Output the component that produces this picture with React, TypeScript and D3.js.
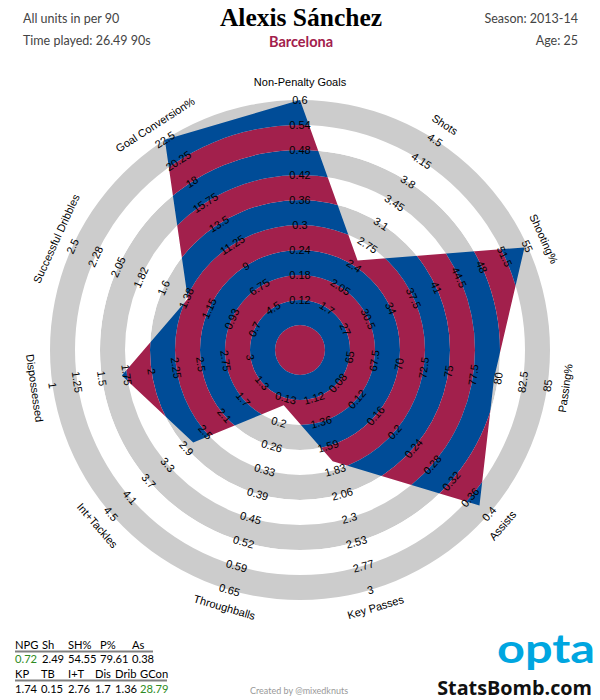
import React from "react";
import * as d3 from "d3";

// Radar axes, clockwise from the top
const axisNames = [
  "Non-Penalty Goals",
  "Shots",
  "Shooting%",
  "Passing%",
  "Assists",
  "Key Passes",
  "Throughballs",
  "Int+Tackles",
  "Dispossessed",
  "Successful Dribbles",
  "Goal Conversion%",
];
const axisShort = ["NPG", "Sh", "SH%", "P%", "As", "KP", "TB", "I+T", "Dis", "Drib", "GCon"];
const playerValues = [0.72, 2.49, 54.55, 79.61, 0.38, 1.74, 0.15, 2.76, 1.7, 1.36, 28.79];
// value at the centre and at the outer ring of each axis
const axisInner = [0, 1.0, 20, 60, 0, 0.65, 0, 0.5, 3.5, 0.25, 0];
const axisOuter = [0.6, 4.5, 55, 85, 0.4, 3.0, 0.65, 4.5, 1.0, 2.5, 22.5];
// labels for ring levels 2..10
const tickLabels = [
  ["0.12", "0.18", "0.24", "0.3", "0.36", "0.42", "0.48", "0.54", "0.6"],
  ["1.7", "2.05", "2.4", "2.75", "3.1", "3.45", "3.8", "4.15", "4.5"],
  ["27", "30.5", "34", "37.5", "41", "44.5", "48", "51.5", "55"],
  ["65", "67.5", "70", "72.5", "75", "77.5", "80", "82.5", "85"],
  ["0.08", "0.12", "0.16", "0.2", "0.24", "0.28", "0.32", "0.36", "0.4"],
  ["1.12", "1.36", "1.59", "1.83", "2.06", "2.3", "2.53", "2.77", "3"],
  ["0.13", "0.2", "0.26", "0.33", "0.39", "0.45", "0.52", "0.59", "0.65"],
  ["1.3", "1.7", "2.1", "2.5", "2.9", "3.3", "3.7", "4.1", "4.5"],
  ["3", "2.75", "2.5", "2.25", "2", "1.75", "1.5", "1.25", "1"],
  ["0.7", "0.93", "1.15", "1.38", "1.6", "1.82", "2.05", "2.28", "2.5"],
  ["4.5", "6.75", "9", "11.25", "13.5", "15.75", "18", "20.25", "22.5"],
];
const tickLevels = [2, 3, 4, 5, 6, 7, 8, 9, 10];

const playerName = "Alexis Sánchez";
const teamName = "Barcelona";
const season = "2013-14";
const age = 25;
const timePlayed = 26.49;

// table layout: which axes go in which row, and column x positions
const tableRows = [
  [0, 1, 2, 3, 4],
  [5, 6, 7, 8, 9, 10],
];
const tableCols = [
  [15, 42, 68, 100, 132],
  [15, 41, 68, 95, 115, 140],
];

const W = 600;
const H = 700;
const CX = 300;
const CY = 350;
const R = 250;
const LEVELS = 10;

const BLUE = "#004C97";
const RED = "#A2204C";
const GREY = "#CCCCCC";
const GREEN = "#2E8B22";

export default function App() {
  const n = axisNames.length;
  const ring = d3.scaleLinear().domain([0, LEVELS]).range([0, R]);
  const angle = d3.scaleLinear().domain([0, n]).range([0, 2 * Math.PI]);
  const valueScales = axisNames.map((_, i) =>
    d3.scaleLinear().domain([axisInner[i], axisOuter[i]]).range([0, R]).clamp(true)
  );

  const arc = d3.arc<any>();
  const bands = d3.range(LEVELS).map((k) => ({
    k,
    d: arc({ innerRadius: ring(k), outerRadius: ring(k + 1), startAngle: 0, endAngle: 2 * Math.PI }) as string,
  }));

  const radarLine = d3
    .lineRadial<number>()
    .angle((_, i) => angle(i))
    .radius((v, i) => valueScales[i](v))
    .curve(d3.curveLinearClosed);
  const radarPath = radarLine(playerValues) as string;

  const rot = (a: number) => {
    const deg = (a * 180) / Math.PI;
    return deg > 90 && deg < 270 ? deg - 180 : deg;
  };

  const sans = "'Liberation Sans', Arial, sans-serif";
  const cal = "Lato, 'Noto Sans', sans-serif";

  return (
    <div style={{ position: "absolute", left: 0, top: 0 }}>
      <svg width={W} height={H} viewBox={`0 0 ${W} ${H}`} style={{ display: "block", background: "#fff" }}>
        <defs>
          <clipPath id="radar-clip">
            <path d={radarPath} transform={`translate(${CX},${CY})`} />
          </clipPath>
        </defs>

        {/* header */}
        <g fontFamily={cal} fill="#444">
          <text x={23} y={23} fontSize={12.5}>All units in per 90</text>
          <text x={23} y={45} fontSize={12.5}>{`Time played: ${timePlayed} 90s`}</text>
          <text x={578} y={23} fontSize={12.5} textAnchor="end">{`Season: ${season}`}</text>
          <text x={578} y={45} fontSize={12.5} textAnchor="end">{`Age: ${age}`}</text>
        </g>
        <text x={301} y={26} textAnchor="middle" fontFamily="'Liberation Serif', 'Times New Roman', serif" fontWeight="bold" fontSize={25.5} fill="#000">
          {playerName}
        </text>
        <text x={301} y={47} textAnchor="middle" fontFamily={cal} fontWeight="bold" fontSize={14.5} fill={RED}>
          {teamName}
        </text>

        <g transform={`translate(${CX},${CY})`}>
          {/* background rings */}
          {bands.map((b) => (
            <path key={`bg${b.k}`} d={b.d} fill={b.k % 2 === 1 ? GREY : "#fff"} />
          ))}
        </g>

        {/* striped player polygon */}
        <g clipPath="url(#radar-clip)">
          <g transform={`translate(${CX},${CY})`}>
            {bands.map((b) => (
              <path key={`st${b.k}`} d={b.d} fill={b.k % 2 === 1 ? BLUE : RED} />
            ))}
          </g>
        </g>

        <g transform={`translate(${CX},${CY})`} fontFamily={sans} fill="#000">
          {/* tick labels along each axis */}
          {axisNames.map((_, i) =>
            tickLabels[i].map((lab, j) => {
              const [x, y] = d3.pointRadial(angle(i), ring(tickLevels[j]));
              return (
                <text
                  key={`t${i}-${j}`}
                  transform={`translate(${x},${y}) rotate(${rot(angle(i))})`}
                  textAnchor="middle"
                  dominantBaseline="central"
                  fontSize={11}
                >
                  {lab}
                </text>
              );
            })
          )}
          {/* axis names */}
          {axisNames.map((name, i) => {
            const [x, y] = d3.pointRadial(angle(i), R + 18);
            return (
              <text
                key={`a${i}`}
                transform={`translate(${x},${y}) rotate(${rot(angle(i))})`}
                textAnchor="middle"
                dominantBaseline="central"
                fontSize={11}
              >
                {name}
              </text>
            );
          })}
        </g>

        {/* summary table */}
        <g fontFamily={cal} fontSize={11.2}>
          {tableRows.map((row, r) => {
            const yHead = r === 0 ? 648.5 : 677.5;
            const yVal = r === 0 ? 662.5 : 692.5;
            const cols = tableCols[r];
            const lineEnd = r === 0 ? 153 : 167;
            return (
              <g key={`row${r}`}>
                {row.map((ai, c) => (
                  <text key={`h${ai}`} x={cols[c]} y={yHead} fill="#000">
                    {axisShort[ai]}
                  </text>
                ))}
                <line x1={15} x2={lineEnd} y1={yHead + 3} y2={yHead + 3} stroke="#808080" strokeWidth={2} />
                {row.map((ai, c) => {
                  const over = playerValues[ai] > axisOuter[ai] && axisOuter[ai] > axisInner[ai];
                  return (
                    <text key={`v${ai}`} x={cols[c]} y={yVal} fill={over ? GREEN : "#000"}>
                      {playerValues[ai]}
                    </text>
                  );
                })}
              </g>
            );
          })}
        </g>

        <text x={250} y={694} fontFamily={cal} fontSize={9} fill="#999">Created by @mixedknuts</text>

        {/* branding */}
        <text
          x={497}
          y={663}
          fontFamily={cal}
          fontWeight="bold"
          fontSize={40}
          fill="#00A6E0"
          textLength={98}
          lengthAdjust="spacingAndGlyphs"
        >
          opta
        </text>
        <text x={592} y={695} textAnchor="end" fontFamily="'Open Sans', sans-serif" fontWeight="bold" fontSize={19.8} fill="#111">
          StatsBomb.com
        </text>
      </svg>
    </div>
  );
}
